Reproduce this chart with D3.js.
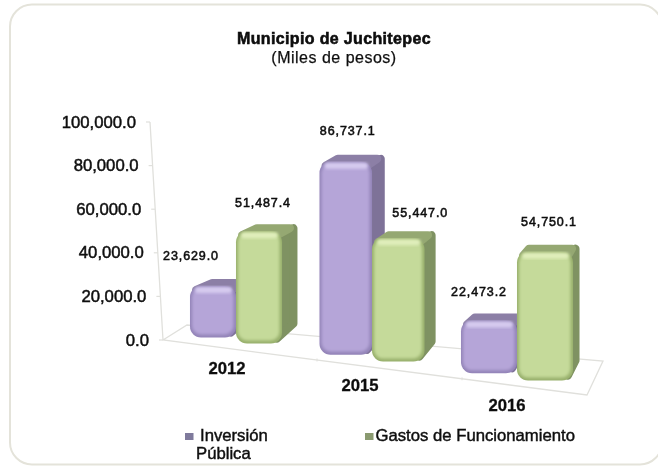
<!DOCTYPE html>
<html><head><meta charset="utf-8">
<script src="https://cdn.jsdelivr.net/npm/d3@7/dist/d3.min.js"></script>
<style>html,body{margin:0;padding:0;background:#fff;overflow:hidden}svg{display:block}text{font-family:"Liberation Sans",Arial,sans-serif;fill:#111}</style>
</head><body><div id="c"></div>
<script>
const categories = ["2012","2015","2016"];
const seriesNames = ["Inversión Pública","Gastos de Funcionamiento"];
const inversion = [23629.0,86737.1,22473.2];
const gastos = [51487.4,55447.0,54750.1];
const tickValues = [0,20000,40000,60000,80000,100000];

const W=658,H=468;
const svg=d3.select("#c").append("svg").attr("width",W).attr("height",H);
const defs=svg.append("defs");
defs.append("filter").attr("id","soft").attr("x","-5%").attr("y","-5%").attr("width","110%").attr("height","110%")
  .append("feGaussianBlur").attr("stdDeviation",0.5);
defs.append("filter").attr("id","bevel").attr("x","-20%").attr("y","-20%").attr("width","140%").attr("height","140%")
  .append("feGaussianBlur").attr("stdDeviation",1.6);
const palette=[
 {rim:"#9384b8",mid:"#b5a5d8",hi:"#d6cbef",side:"#7e7298",cap:"#8c7fa6"},
 {rim:"#98b06c",mid:"#c5da9a",hi:"#e0eebb",side:"#7f9262",cap:"#95a872"}
];

// frame
svg.append("rect").attr("x",10).attr("y",4.5).attr("width",652).attr("height",460).attr("rx",22)
  .attr("fill","#fff").attr("stroke","#e4e3da").attr("stroke-width",2);

// projection of the 3D plot area
const corners={wallTop:[150,122],front:[163,340],frontRight:[587,395],backRight:[603,361],backLeft:[187,325]};
const heightScale=d3.scaleLinear().domain([0,100000]).range([0,218]);
const groupSplit=d3.scaleOrdinal().domain(categories).range([236,372,517]);
const frontY=d3.scaleLinear().domain([corners.front[0],corners.frontRight[0]]).range([corners.front[1],corners.frontRight[1]]);
const wallX=d3.scaleLinear().domain([0,100000]).range([corners.front[0],corners.wallTop[0]]);
const persp=d3.scaleLinear().domain([236,372,517]).range([1,1.02,1.08]);
const barW=d3.scaleLinear().domain([236,372,517]).range([46,52.5,56]);
const sideDx=d3.scaleLinear().domain([258,546]).range([16,7]);

const plot=svg.append("g").attr("filter","url(#soft)");
const axisCol="#e0e0dc";
const line=d3.line();
plot.append("path").attr("d",line([corners.wallTop,corners.front,corners.frontRight,corners.backRight,corners.backLeft,corners.front]))
  .attr("fill","none").attr("stroke",axisCol).attr("stroke-width",1.3);
tickValues.forEach(v=>{
  const y=corners.front[1]-heightScale(v),x=wallX(v);
  plot.append("line").attr("x1",x-4).attr("x2",x).attr("y1",y).attr("y2",y).attr("stroke",axisCol).attr("stroke-width",1.2);
  plot.append("text").attr("x",x-14).attr("y",y+5.5).attr("text-anchor","end")
    .attr("font-size",16.7).attr("stroke","#111").attr("stroke-width",.5).text(d3.format(",.1f")(v));
});
categories.slice(1).forEach(c=>{
  const x=groupSplit(c)-55;
  plot.append("line").attr("x1",x).attr("x2",x).attr("y1",frontY(x)-1.5).attr("y2",frontY(x)+1.5).attr("stroke",axisCol);
});

// bars
const labelShift=[[[-22,-26],[2,-27],[-10,-24]],[[4,-24],[22,-21],[4,-26]]];
const catShift=[[3,0],[-0,-1],[2,0]];
const series=[inversion,gastos];
categories.forEach((c,ci)=>{
  const split=groupSplit(c);
  series.forEach((vals,si)=>{
    const w=barW(split),v=vals[ci],p=palette[si];
    const x0=si===0?split-w:split, cx=x0+w/2;
    const base=frontY(cx)-9, h=heightScale(v)*persp(split), top=base-h;
    const dx=sideDx(cx), dy=7, r=Math.min(11,h/4);
    const g=plot.append("g");
    g.append("path").attr("d",line([[x0+w-5,top+4],[x0+w+dx-4.5,top-dy+4],[x0+w+dx-4.5,base-dy-13],[x0+w-5,base-5]])+"Z")
      .attr("fill",p.side).attr("stroke",p.side).attr("stroke-width",8).attr("stroke-linejoin","round");
    g.append("path").attr("d",line([[x0+6,top+4],[x0+dx+5,top-dy+4],[x0+w+dx-8,top-dy+4],[x0+w-5,top+4]])+"Z")
      .attr("fill",p.cap).attr("stroke",p.cap).attr("stroke-width",8).attr("stroke-linejoin","round");
    g.append("rect").attr("x",x0).attr("y",top).attr("width",w).attr("height",h).attr("rx",r).attr("fill",p.rim);
    g.append("rect").attr("x",x0+2).attr("y",top+2).attr("width",w-4.5).attr("height",h-5).attr("rx",r-2).attr("fill",p.mid).attr("filter","url(#bevel)");
    g.append("rect").attr("x",x0+5).attr("y",top+1).attr("width",w-9).attr("height",Math.min(6,h/6)).attr("rx",3).attr("fill",p.hi).attr("filter","url(#bevel)");
    const s=labelShift[si][ci];
    plot.append("text").attr("x",cx+s[0]).attr("y",top+s[1]).attr("text-anchor","middle")
      .attr("font-size",12.5).attr("letter-spacing",.9).attr("stroke","#111").attr("stroke-width",.55)
      .text(d3.format(",.1f")(v));
  });
  const lx=split-12+catShift[ci][0];
  plot.append("text").attr("x",lx).attr("y",frontY(lx)+26+catShift[ci][1]).attr("text-anchor","middle")
    .attr("font-size",16.7).attr("font-weight",700).attr("stroke","#111").attr("stroke-width",.3).text(c);
});

// title
const title=svg.append("g").attr("filter","url(#soft)");
title.append("text").attr("x",334).attr("y",44).attr("text-anchor","middle").attr("font-size",16).attr("letter-spacing",.35).attr("font-weight",700).attr("stroke","#000").attr("stroke-width",.5).text("Municipio de Juchitepec");
title.append("text").attr("x",334).attr("y",63).attr("text-anchor","middle").attr("font-size",16).attr("letter-spacing",.5).attr("stroke","#111").attr("stroke-width",.25).text("(Miles de pesos)");

// legend
const leg=svg.append("g").attr("filter","url(#soft)");
const words=seriesNames[0].split(" ");
leg.append("rect").attr("x",185).attr("y",433).attr("width",8.5).attr("height",7).attr("fill","#7f7a9c");
leg.append("text").attr("x",200).attr("y",441).attr("font-size",16.7).attr("stroke","#111").attr("stroke-width",.45).text(words[0]);
leg.append("text").attr("x",196).attr("y",459).attr("font-size",16.7).attr("stroke","#111").attr("stroke-width",.45).text(words[1]);
leg.append("rect").attr("x",365).attr("y",433).attr("width",8.5).attr("height",7).attr("fill","#8a9a70");
leg.append("text").attr("x",375.5).attr("y",441).attr("font-size",16.7).attr("stroke","#111").attr("stroke-width",.45).text(seriesNames[1]);
</script></body></html>
